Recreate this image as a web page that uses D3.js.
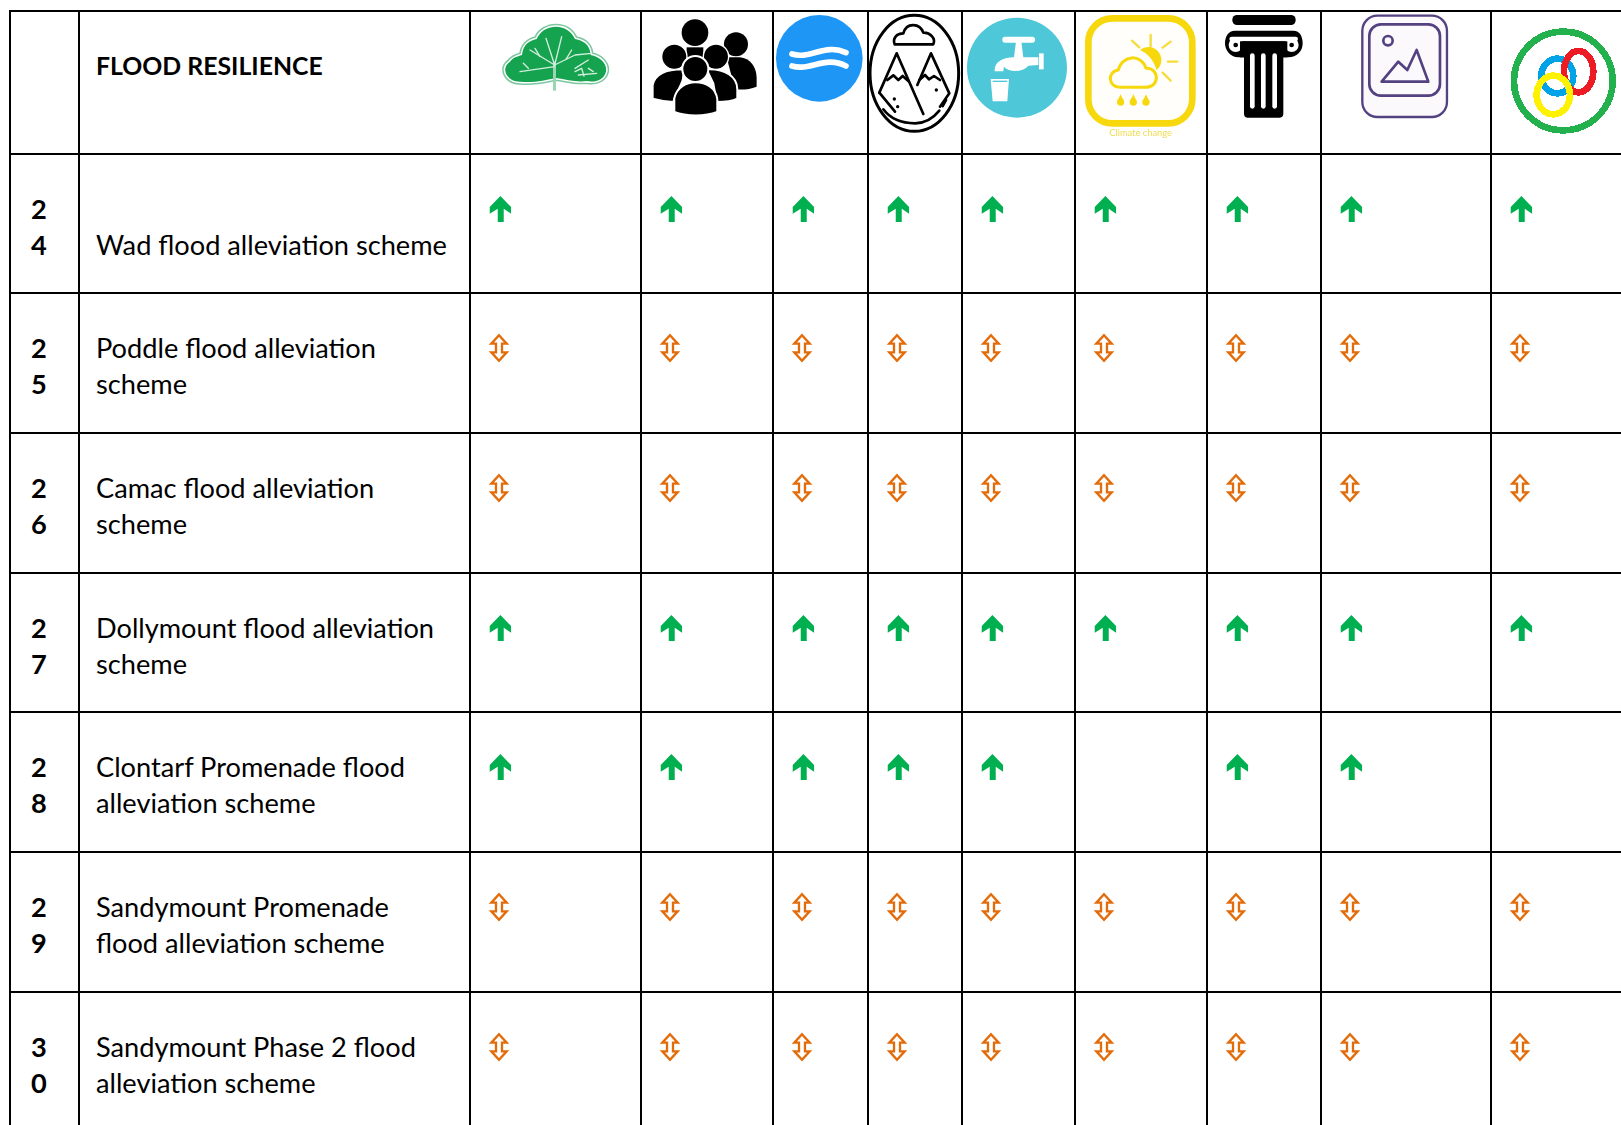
<!DOCTYPE html>
<html>
  <head>
    <meta charset="utf-8">
    <title>Flood Resilience</title>
    <script src="https://d3js.org/d3.v7.min.js"></script>
    <style>
      body { margin: 0; background: #fff; }
      svg { display: block; font-family: Lato, "Noto Sans", sans-serif; }
      .grid { stroke: #000; stroke-width: 2; }
      .soft { filter: blur(0.4px); }
    </style>
  </head>
  <body>
    <svg width="1621" height="1125"></svg>

    <script>
      // Table content
      const title = "FLOOD RESILIENCE";
      const rowIds = ["24", "25", "26", "27", "28", "29", "30"];
      const rowNames = [
        ["", "Wad flood alleviation scheme"],
        ["Poddle flood alleviation", "scheme"],
        ["Camac flood alleviation", "scheme"],
        ["Dollymount flood alleviation", "scheme"],
        ["Clontarf Promenade flood", "alleviation scheme"],
        ["Sandymount Promenade", "flood alleviation scheme"],
        ["Sandymount Phase 2 flood", "alleviation scheme"]
      ];
      const themes = ["tree", "people", "water", "landscape", "tap", "climate", "heritage", "visual", "rings"];
      // u = green up arrow, m = orange double arrow, - = empty cell
      const ratings = [
        "uuuuuuuuu",
        "mmmmmmmmm",
        "mmmmmmmmm",
        "uuuuuuuuu",
        "uuuuu-uu-",
        "mmmmmmmmm",
        "mmmmmmmmm"
      ];

      // Layout, the columns and rows are not evenly sized
      const x = d3.scaleOrdinal().domain(themes)
        .range([470, 641, 773, 868, 962, 1075, 1207, 1321, 1491]);
      const y = d3.scaleOrdinal().domain(rowIds)
        .range([154, 293, 433, 573, 712, 852, 992]);
      const svg = d3.select("svg");
      const fontSize = 27.2;

      // Grid
      const vLines = [10, 79].concat(x.range());
      const hLines = [11].concat(y.range());
      svg.selectAll(".v").data(vLines).enter().append("line")
        .attr("class", "grid")
        .attr("x1", d => d).attr("x2", d => d)
        .attr("y1", 10).attr("y2", 1125);
      svg.selectAll(".h").data(hLines).enter().append("line")
        .attr("class", "grid")
        .attr("x1", 9).attr("x2", 1621)
        .attr("y1", d => d).attr("y2", d => d);

      // Header text
      svg.append("text")
        .attr("x", 96).attr("y", 75)
        .attr("font-size", 24.8).attr("font-weight", 700)
        .text(title);

      // Row numbers and names
      const rows = svg.selectAll(".row").data(rowIds).enter().append("g")
        .attr("class", "row")
        .attr("transform", d => `translate(0,${y(d)})`);

      rows.each(function(id, i) {
        const g = d3.select(this);
        id.split("").forEach((c, k) => {
          g.append("text")
            .attr("x", 39).attr("y", 64.6 + k * 36)
            .attr("text-anchor", "middle")
            .attr("font-size", fontSize).attr("font-weight", 700)
            .text(c);
        });
        rowNames[i].forEach((line, k) => {
          g.append("text")
            .attr("x", 96).attr("y", 64.6 + k * 36)
            .attr("font-size", fontSize)
            .text(line);
        });
      });

      // Rating arrows
      const upArrow = "M0,-39L32,-6L32,14L10,-1L10,39L-8,39L-8,-1L-32,14L-32,-6Z";
      const bothArrow = "M0,-38L23,-13L9,-13L9,13L23,13L0,38L-23,13L-9,13L-9,-13L-23,-13Z";

      const cells = [];
      rowIds.forEach((id, i) => {
        themes.forEach((t, j) => {
          if (ratings[i][j] !== "-") cells.push({ id: id, theme: t, rating: ratings[i][j] });
        });
      });

      svg.selectAll(".arrow").data(cells).enter().append("path")
        .attr("class", "arrow")
        .attr("transform", d => `translate(${x(d.theme) + (d.rating === "u" ? 30.4 : 29)},${y(d.id) + 55}) scale(0.3333)`)
        .attr("d", d => d.rating === "u" ? upArrow : bothArrow)
        .attr("fill", d => d.rating === "u" ? "#00b050" : "#fff")
        .attr("stroke", d => d.rating === "u" ? "none" : "#e36c0a")
        .attr("stroke-width", 7);

      // Header icons, drawn in 3x coordinates
      function icon(ox, soft) {
        return svg.append("g").attr("class", soft === false ? null : "soft")
          .attr("transform", `translate(${ox},0) scale(0.3333)`);
      }
      function stroked(g, d, color, w) {
        return g.append("path").attr("d", d).attr("fill", "none")
          .attr("stroke", color).attr("stroke-width", w)
          .attr("stroke-linecap", "round").attr("stroke-linejoin", "round");
      }

      // tree
      const t = icon(460);
      const cloud = "M180,245C140,245 120,205 150,185C160,172 170,170 186,165C190,132 208,122 230,117C240,92 265,80 288,80C315,80 335,95 345,117C372,122 390,135 392,165C420,170 442,190 438,215C432,240 405,248 380,243C350,248 320,238 288,234C258,240 220,250 180,245Z";
      stroked(t, cloud, "#7cc7a0", 18);
      stroked(t, cloud, "#fff", 9);
      t.append("path").attr("d", cloud).attr("fill", "#16a34f");
      t.append("rect").attr("x", 279).attr("y", 185).attr("width", 9).attr("height", 87).attr("fill", "#9ad5b4");
      ["M284,195L210,150", "M284,195L345,165L395,160", "M284,195L258,115", "M284,195L305,110", "M284,200L180,215",
       "M240,170L225,145", "M318,178L335,150", "M205,205L190,190", "M345,205L385,180",
       "M345,215L365,205L372,228", "M355,225L410,220", "M385,205L400,215"].forEach(d => stroked(t, d, "#d2eedd", 4));

      // people
      const p = icon(460);
      const body = (d) => p.append("path").attr("d", d).attr("fill", "#000").attr("stroke", "#fff").attr("stroke-width", 6);
      p.append("circle").attr("cx", 828).attr("cy", 133).attr("r", 36);
      p.append("path").attr("d", "M800,172L840,172C870,175 890,200 890,235L890,260C870,268 850,270 825,268Z");
      p.append("circle").attr("cx", 705).attr("cy", 98).attr("r", 40);
      p.append("rect").attr("x", 680).attr("y", 142).attr("width", 50).attr("height", 30);
      body("M740,208C795,205 832,230 832,268L832,296C815,304 795,306 770,306L760,250Z");
      body("M578,296L578,255C585,225 612,208 668,208C680,240 650,270 640,306C620,305 600,302 578,296Z");
      [[643, 170], [768, 170]].forEach(c => {
        p.append("circle").attr("cx", c[0]).attr("cy", c[1]).attr("r", 38).attr("stroke", "#fff").attr("stroke-width", 4);
      });
      p.append("circle").attr("cx", 706).attr("cy", 207).attr("r", 39).attr("stroke", "#fff").attr("stroke-width", 6);
      body("M643,336L643,295C650,262 680,247 706,247C738,247 768,262 772,298L772,336C735,350 680,350 643,336Z");

      // water
      const w = icon(460);
      w.append("circle").attr("cx", 1078).attr("cy", 175).attr("r", 130).attr("fill", "#1e96f6");
      stroked(w, "M996,162C1050,180 1095,128 1158,158", "#fff", 17);
      stroked(w, "M996,198C1050,215 1095,165 1158,198", "#fff", 17);

      // landscape
      const m = icon(860);
      m.append("ellipse").attr("cx", 163).attr("cy", 220).attr("rx", 133).attr("ry", 174)
        .attr("fill", "#fff").attr("stroke", "#000").attr("stroke-width", 9);
      stroked(m, "M70,328C90,355 125,370 165,370C200,370 222,352 238,332", "#000", 8);
      stroked(m, "M248,318L258,300", "#000", 8);
      stroked(m, "M104,133L220,133C228,115 210,97 190,98C180,70 140,65 130,100C110,100 97,115 104,133Z", "#000", 8);
      stroked(m, "M58,278L110,160L190,342", "#000", 8);
      stroked(m, "M58,278L105,335", "#000", 8);
      stroked(m, "M172,255L213,160L268,280L240,320", "#000", 8);
      stroked(m, "M82,240L100,226L115,240L128,228L145,243", "#000", 8);
      stroked(m, "M178,240L195,225L207,238L222,228L240,240", "#000", 8);
      [[103, 297], [113, 320], [229, 270]].forEach(c => {
        m.append("circle").attr("cx", c[0]).attr("cy", c[1]).attr("r", 5);
      });

      // tap
      const f = icon(860);
      f.append("circle").attr("cx", 471).attr("cy", 203).attr("r", 150).attr("fill", "#4ec8d8");
      f.append("rect").attr("x", 427).attr("y", 110).attr("width", 98).attr("height", 18).attr("rx", 8).attr("fill", "#fff");
      f.append("path").attr("fill", "#fff")
        .attr("d", "M468,125L484,125L490,172L535,172L535,195L505,197C490,215 450,220 432,200L430,214L404,214C402,185 430,172 462,172Z");
      f.append("rect").attr("x", 537).attr("y", 160).attr("width", 14).attr("height", 48).attr("fill", "#fff");
      f.append("path").attr("fill", "#fff").attr("d", "M392,237L447,237L442,304L398,304Z");
      f.append("rect").attr("x", 398).attr("y", 242).attr("width", 44).attr("height", 4).attr("fill", "#4ec8d8");

      // climate
      const c = icon(860);
      c.append("rect").attr("x", 685).attr("y", 55).attr("width", 312).attr("height", 315).attr("rx", 72)
        .attr("fill", "#fffefa").attr("stroke", "#f6d80c").attr("stroke-width", 20);
      c.append("path").attr("fill", "#f6d80c").attr("d", "M840,150A38,38 0 1 1 890,210C880,178 862,160 840,150Z");
      ["M872,105L872,140", "M816,122L838,142", "M932,125L908,143", "M924,185L952,185", "M908,218L932,242"]
        .forEach(d => stroked(c, d, "#f6dc3c", 7));
      stroked(c, "M780,262C745,262 740,215 775,210C785,165 845,160 858,205C895,200 905,262 855,262Z", "#f6d80c", 9);
      [782, 820, 858].forEach(cx => {
        c.append("path").attr("fill", "#f6d80c")
          .attr("d", `M${cx},282C${cx + 4},295 ${cx + 11},300 ${cx + 11},306A11,11 0 0 1 ${cx - 11},306C${cx - 11},300 ${cx - 4},295 ${cx},282Z`);
      });
      c.append("text").attr("x", 842).attr("y", 408).attr("text-anchor", "middle")
        .attr("font-size", 28).attr("fill", "#f0dc50").text("Climate change");

      // heritage
      const h = icon(1200);
      h.append("rect").attr("x", 97).attr("y", 45).attr("width", 190).attr("height", 30).attr("rx", 14);
      h.append("path").attr("d", "M105,92L280,92C300,92 308,110 308,130C308,155 290,172 265,172L250,172L250,340C250,350 245,353 240,353L142,353C135,353 132,348 132,340L132,172L115,172C90,172 75,150 75,130C75,110 85,92 105,92Z");
      h.append("rect").attr("x", 88).attr("y", 110).attr("width", 206).attr("height", 14).attr("fill", "#fff").attr("rx", 7);
      [107, 275].forEach(cx => {
        h.append("circle").attr("cx", cx).attr("cy", 135).attr("r", 21).attr("fill", "#fff");
        h.append("circle").attr("cx", cx).attr("cy", 135).attr("r", 7);
      });
      h.append("rect").attr("x", 120).attr("y", 124).attr("width", 142).attr("height", 48);
      [150, 183, 217].forEach(rx => {
        h.append("rect").attr("x", rx).attr("y", 160).attr("width", 14).attr("height", 166).attr("rx", 7).attr("fill", "#fff");
      });

      // visual
      const v = icon(1200);
      const purple = "#534180";
      v.append("rect").attr("x", 487).attr("y", 47).attr("width", 254).attr("height", 304).attr("rx", 45)
        .attr("fill", "#fcf9fd").attr("stroke", purple).attr("stroke-width", 7);
      v.append("rect").attr("x", 508).attr("y", 73).attr("width", 212).attr("height", 214).attr("rx", 35)
        .attr("fill", "none").attr("stroke", purple).attr("stroke-width", 8);
      v.append("circle").attr("cx", 564).attr("cy", 122).attr("r", 14)
        .attr("fill", "none").attr("stroke", purple).attr("stroke-width", 8);
      stroked(v, "M545,245L595,185L622,210L650,150L685,245Z", purple, 8);

      // rings
      const r = icon(1200, false).attr("shape-rendering", "crispEdges").attr("fill", "none").attr("stroke-width", 20);
      r.append("circle").attr("cx", 1090).attr("cy", 243).attr("r", 148).attr("stroke", "#22b14c");
      r.append("ellipse").attr("cx", 1072).attr("cy", 228).attr("rx", 48).attr("ry", 52).attr("stroke", "#00a2e8");
      r.append("ellipse").attr("cx", 1136).attr("cy", 215).attr("rx", 44).attr("ry", 62).attr("stroke", "#ed1c24");
      r.append("ellipse").attr("cx", 1060).attr("cy", 285).attr("rx", 50).attr("ry", 58).attr("stroke", "#fff200");
    </script>
  </body>
</html>
